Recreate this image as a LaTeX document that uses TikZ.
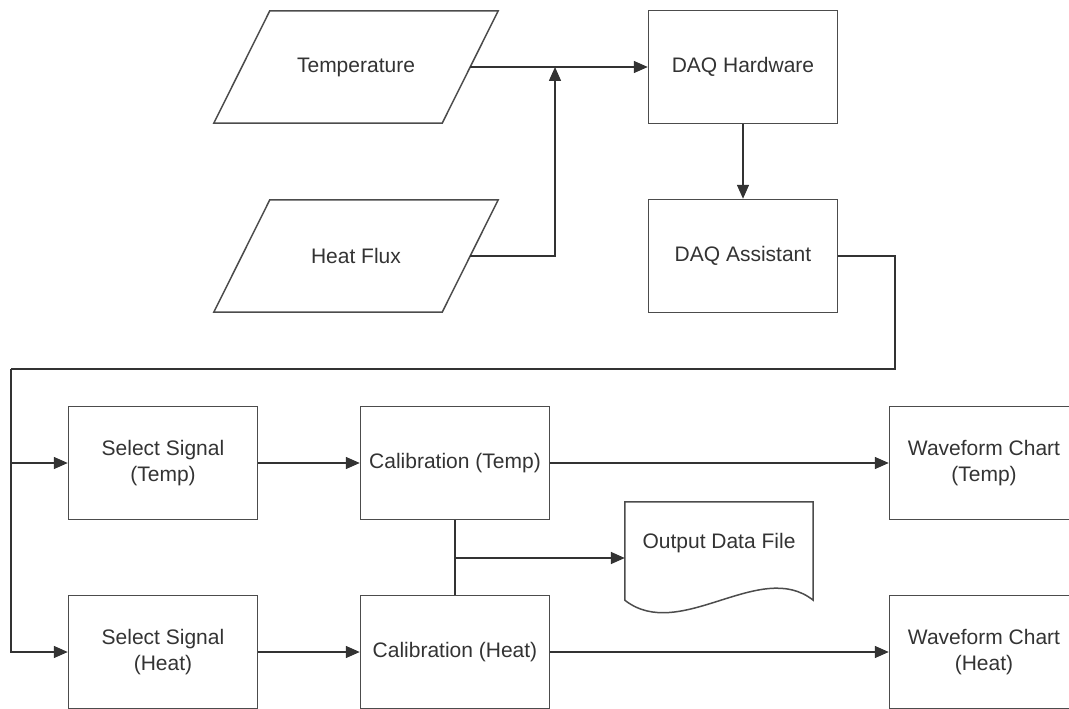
\documentclass[tikz,border=0pt]{standalone}
\usepackage{fontspec}
\setmainfont{Liberation Sans}
\usetikzlibrary{arrows.meta,calc}

\begin{document}
\begin{tikzpicture}[x=1pt,y=-1pt,
  font=\fontsize{21}{26}\selectfont,
  every node/.style={text=black!80},
  outline/.style={draw=black!70,line width=1.5pt},
  block/.style={outline,minimum width=189pt,minimum height=113pt,inner sep=0pt,align=center},
  inputbox/.style={minimum width=228pt,minimum height=112pt,inner sep=0pt},
  wire/.style={draw=black!80,line width=1.5pt},
  flow/.style={wire,-{Triangle[length=14pt,width=12pt]}}]
  \clip (0,0) rectangle (1069,709);

  \node[inputbox] (temp) at (356,67) {Temperature};
  \node[inputbox] (flux) at (356,256) {Heat Flux};
  \foreach \n in {temp,flux}
    \draw[outline] ($(\n.north west)+(28,0)$) -- ($(\n.north east)+(28,0)$)
      -- ($(\n.south east)+(-28,0)$) -- ($(\n.south west)+(-28,0)$) -- cycle;
  \node[block] (hw) at (743,67) {DAQ Hardware};
  \node[block] (asst) at (743,256) {DAQ Assistant};
  \node[block] (selT) at (163,463) {Select Signal\\(Temp)};
  \node[block] (calT) at (455,463) {Calibration (Temp)};
  \node[block] (wfT) at (984,463) {Waveform Chart\\(Temp)};
  \node[block] (selH) at (163,652) {Select Signal\\(Heat)};
  \node[block] (calH) at (455,652) {Calibration (Heat)};
  \node[block] (wfH) at (984,652) {Waveform Chart\\(Heat)};
  \node[minimum width=188pt,minimum height=82pt,inner sep=0pt] (file) at (719,543) {Output Data File};
  \draw[outline] (file.north west) -- (file.north east) -- ($(file.south east)+(0,16)$)
    .. controls +(-53,-42) and +(55,43) .. ($(file.south west)+(0,16)$) -- cycle;

  % inputs
  \coordinate (merge) at (555,67);
  \draw[flow] (temp.east) -- (hw.west);
  \draw[flow] (flux.east) -| (merge);
  \draw[flow] (hw) -- (asst);

  % bus to the signal selectors
  \coordinate (turn) at (895,369);
  \coordinate (bus) at (11,369);
  \draw[wire] (asst.east) -| (turn) -- (bus);
  \draw[flow] (bus) |- (selH.west);
  \draw[flow] (bus |- selT.west) -- (selT.west);

  \draw[flow] (selT) -- (calT);
  \draw[flow] (selH) -- (calH);
  \draw[flow] (calT) -- (wfT);
  \draw[flow] (calH) -- (wfH);

  % data file
  \coordinate (tap) at (455,558);
  \draw[wire] (calT.south) -- (calH.north);
  \draw[flow] (tap) -- (tap -| file.west);
\end{tikzpicture}
\end{document}
